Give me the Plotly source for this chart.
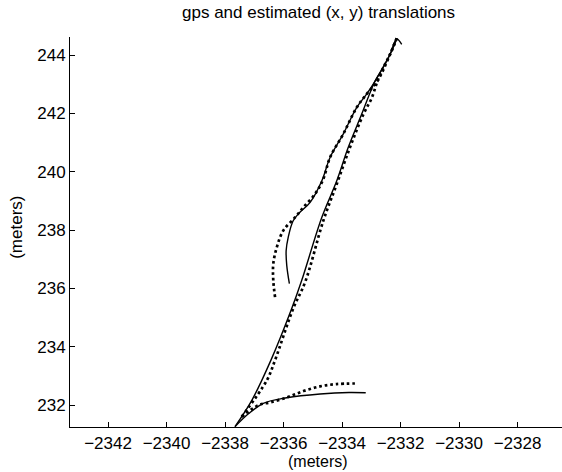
import plotly.graph_objects as go

# GPS track (dotted), ascending leg then returning upper-left leg
gps_up_x = [-2337.43, -2336.57, -2336.29, -2335.67, -2335.26, -2334.64, -2334.18,
            -2333.73, -2333.27, -2332.98, -2332.79, -2332.59, -2332.36, -2332.13]
gps_up_y = [231.60, 232.85, 233.54, 235.31, 236.22, 238.32, 239.58,
            240.83, 241.97, 242.54, 243.11, 243.57, 244.02, 244.58]
gps_back_x = [-2332.13, -2332.36, -2332.79, -2333.16, -2333.50, -2333.96, -2334.41,
              -2334.64, -2334.92, -2335.32, -2335.60, -2336.01, -2336.23, -2336.35,
              -2336.35, -2336.29]
gps_back_y = [244.58, 244.02, 243.11, 242.66, 242.20, 241.29, 240.49,
              239.75, 239.24, 238.78, 238.44, 237.98, 237.41, 236.84,
              236.27, 235.70]
gps_low_x = [-2337.43, -2337.10, -2336.80, -2336.46, -2335.89, -2335.32, -2334.75,
             -2334.18, -2333.56]
gps_low_y = [231.60, 231.85, 232.02, 232.09, 232.26, 232.48, 232.64,
             232.72, 232.74]

# Estimated track (solid)
est_up_x = [-2337.66, -2337.08, -2336.43, -2335.72, -2335.38, -2334.69, -2334.18,
            -2333.79, -2333.33, -2332.87, -2332.60, -2332.36, -2332.13, -2331.96]
est_up_y = [231.26, 232.17, 233.54, 235.31, 236.27, 238.44, 239.69,
            240.83, 241.97, 243.11, 243.57, 244.02, 244.55, 244.37]
est_back_x = [-2332.13, -2332.36, -2332.87, -2333.16, -2333.50, -2333.96, -2334.41,
              -2334.69, -2335.09, -2335.44, -2335.67, -2335.84, -2335.91, -2335.89,
              -2335.80]
est_back_y = [244.55, 244.02, 243.11, 242.66, 242.20, 241.29, 240.49,
              239.69, 238.95, 238.61, 238.32, 237.75, 237.30, 236.79,
              236.16]
est_low_x = [-2337.66, -2337.20, -2336.69, -2335.89, -2334.75, -2333.76, -2333.19]
est_low_y = [231.26, 231.70, 232.06, 232.25, 232.38, 232.43, 232.42]

x_ticks = [-2342, -2340, -2338, -2336, -2334, -2332, -2330, -2328]
y_ticks = [232, 234, 236, 238, 240, 242, 244]

title_text = "gps and estimated (x, y) translations"
x_label = "(meters)"
y_label = "(meters)"

FONT = "Liberation Sans, Arial, Helvetica, sans-serif"
FS = 17

fig = go.Figure()
dot_style = dict(color="black", width=2.7, dash="2.7px,2.9px")
solid_style = dict(color="black", width=1.4)
for xs, ys in [(gps_up_x, gps_up_y), (gps_back_x, gps_back_y), (gps_low_x, gps_low_y)]:
    fig.add_trace(go.Scatter(x=xs, y=ys, mode="lines", line=dot_style,
                             line_shape="spline", showlegend=False, hoverinfo="skip"))
for xs, ys in [(est_up_x, est_up_y), (est_back_x, est_back_y), (est_low_x, est_low_y)]:
    fig.add_trace(go.Scatter(x=xs, y=ys, mode="lines", line=solid_style,
                             line_shape="spline", showlegend=False, hoverinfo="skip"))

axis_common = dict(showgrid=False, zeroline=False, showline=True, linecolor="black",
                   linewidth=1, ticks="inside", ticklen=5, tickcolor="black",
                   automargin=False,
                   tickfont=dict(family=FONT, size=FS, color="black"), mirror=False)
fig.update_layout(
    width=562, height=472,
    margin=dict(l=70, r=0, t=37, b=45),
    paper_bgcolor="white", plot_bgcolor="white",
    xaxis=dict(range=[-2343.30, -2326.48], tickmode="array", tickvals=x_ticks,
               ticklabelstandoff=1, **axis_common),
    yaxis=dict(range=[231.248, 244.62], tickmode="array", tickvals=y_ticks,
               **axis_common),
    annotations=[
        dict(text=title_text, x=0.506, y=1.064, xref="paper", yref="paper",
             xanchor="center", yanchor="middle",
             showarrow=False, font=dict(family=FONT, size=FS, color="black")),
        dict(text=x_label, x=0.504, y=-0.089, xref="paper", yref="paper",
             xanchor="center", yanchor="middle",
             showarrow=False, font=dict(family=FONT, size=16, color="black")),
        dict(text=y_label, x=-0.108, y=0.513, xref="paper", yref="paper", textangle=-90,
             xanchor="center", yanchor="middle",
             showarrow=False, font=dict(family=FONT, size=FS, color="black")),
    ],
)
fig.write_html("out.html", config={"displayModeBar": False},
               post_script="document.body.style.margin='0';document.body.style.overflow='hidden';")
